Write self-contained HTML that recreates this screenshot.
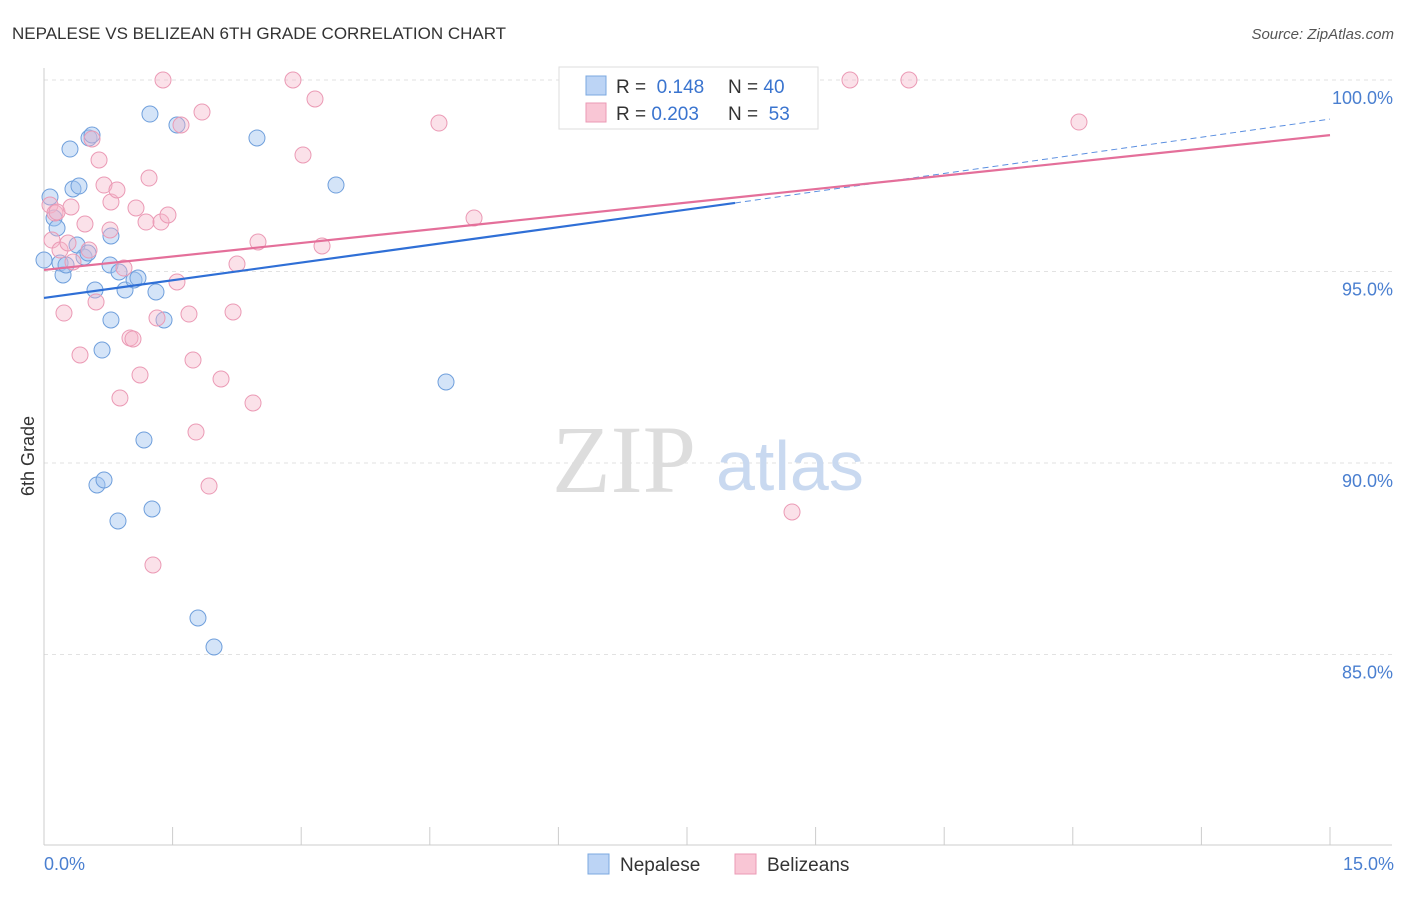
<!DOCTYPE html>
<html><head><meta charset="utf-8"><style>
body{margin:0;background:#fff;font-family:"Liberation Sans",sans-serif;}
</style></head><body>
<svg width="1406" height="892" xmlns="http://www.w3.org/2000/svg" id="chart">
<text x="12" y="39" font-size="17" fill="#333">NEPALESE VS BELIZEAN 6TH GRADE CORRELATION CHART</text>
<text x="1394" y="39" font-size="15" fill="#555" font-style="italic" text-anchor="end">Source: ZipAtlas.com</text>
<g id="grid"></g>
<g id="axes"></g>
<text x="552" y="492" font-size="96" fill="#ddd" font-family="Liberation Serif,serif">ZIP</text>
<text x="716" y="490" font-size="70" fill="#c9d9f0">atlas</text>
<g id="pts"></g>
<g id="trend"></g>
<text transform="translate(34,456) rotate(-90)" font-size="18" fill="#333" text-anchor="middle">6th Grade</text>
<text x="44" y="870" font-size="18" fill="#4a7fd0">0.0%</text>
<text x="1394" y="870" font-size="18" fill="#4a7fd0" text-anchor="end">15.0%</text>
<g>
<rect x="559" y="67" width="259" height="62" fill="#fff" stroke="#ddd"/>
<rect x="586" y="76" width="20" height="19" fill="#bcd4f5" stroke="#7ba8e0"/>
<rect x="586" y="103" width="20" height="19" fill="#f9c6d5" stroke="#eb9ab5"/>
<text x="616" y="93" font-size="19" fill="#333">R = <tspan fill="#3a74cf">&#160;0.148</tspan><tspan x="728">N = </tspan><tspan fill="#3a74cf">40</tspan></text>
<text x="616" y="120" font-size="19" fill="#333">R = <tspan fill="#3a74cf">0.203</tspan><tspan x="728">N = </tspan><tspan fill="#3a74cf">&#160;53</tspan></text>
</g>
<g>
<rect x="588" y="854" width="21" height="20" fill="#bcd4f5" stroke="#7ba8e0"/>
<text x="620" y="871" font-size="19" fill="#333">Nepalese</text>
<rect x="735" y="854" width="21" height="20" fill="#f9c6d5" stroke="#eb9ab5"/>
<text x="767" y="871" font-size="19" fill="#333">Belizeans</text>
</g>
</svg>
<script>
const yTicks=[100,95,90,85];
const yTickLabels=["100.0%","95.0%","90.0%","85.0%"];
const xTicks=[0,1.5,3,4.5,6,7.5,9,10.5,12,13.5,15];
const bluePx=[[44,260],[50,197],[54,218],[57,228],[60,263],[63,275],[66,265],[70,149],[73,189],[79,186],[77,245],[84,257],[88,253],[89,138],[92,135],[95,290],[97,485],[102,350],[104,480],[111,236],[110,265],[111,320],[118,521],[119,272],[125,290],[134,280],[138,278],[144,440],[150,114],[152,509],[156,292],[164,320],[177,125],[198,618],[214,647],[257,138],[336,185],[446,382],[681,105]];
const pinkPx=[[50,205],[52,240],[55,213],[57,212],[60,250],[64,313],[68,243],[71,207],[73,262],[80,355],[85,224],[89,250],[92,139],[96,302],[99,160],[104,185],[110,230],[111,202],[117,190],[120,398],[124,268],[130,338],[133,339],[136,208],[140,375],[146,222],[149,178],[153,565],[157,318],[161,222],[168,215],[177,282],[181,125],[189,314],[193,360],[196,432],[202,112],[209,486],[221,379],[233,312],[237,264],[253,403],[258,242],[293,80],[303,155],[315,99],[322,246],[439,123],[474,218],[792,512],[850,80],[909,80],[1079,122],[163,80]];
// convert estimated pixel reads to data values
const toX=p=>(p-44)/85.733, toY=p=>100-(p-80)/38.3;
const nepaleseX=bluePx.map(p=>+toX(p[0]).toFixed(3)), nepaleseY=bluePx.map(p=>+toY(p[1]).toFixed(3));
const belizeanX=pinkPx.map(p=>+toX(p[0]).toFixed(3)), belizeanY=pinkPx.map(p=>+toY(p[1]).toFixed(3));
const blueTrend=[[0,94.31],[8.06,96.79],[15,98.98]];
const pinkTrend=[[0,95.04],[15,98.56]];
const sx=v=>44+v*85.733, sy=v=>80+(100-v)*38.3;
const NS="http://www.w3.org/2000/svg";
function mk(t,a,parent){const e=document.createElementNS(NS,t);for(const k in a)e.setAttribute(k,a[k]);document.getElementById(parent).appendChild(e);return e;}
yTicks.forEach((v,i)=>{
 const l=mk('line',{x1:44,x2:1392,y1:sy(v),y2:sy(v),stroke:'#e2e2e2','stroke-dasharray':'4,4'},'grid');
 
 
 const t=mk('text',{x:1393,y:sy(v)+24,'font-size':18,fill:'#4a7fd0','text-anchor':'end'},'grid');
 t.textContent=yTickLabels[i];
 
 
});
let a=mk('line',{x1:44,x2:44,y1:68,y2:845,stroke:'#ccc'},'axes');


a=mk('line',{x1:44,x2:1392,y1:845,y2:845,stroke:'#ccc'},'axes');


xTicks.forEach(v=>{const t=mk('line',{x1:sx(v),x2:sx(v),y1:827,y2:845,stroke:'#ccc'},'axes');
 
 });
nepaleseX.forEach((x,i)=>{const c=mk('circle',{cx:sx(x),cy:sy(nepaleseY[i]),r:8,fill:'rgba(160,195,240,0.45)',stroke:'#6f9fdc','stroke-width':1},'pts');
 
 });
belizeanX.forEach((x,i)=>{const c=mk('circle',{cx:sx(x),cy:sy(belizeanY[i]),r:8,fill:'rgba(245,180,200,0.4)',stroke:'#eb9ab5','stroke-width':1},'pts');
 
 });
let l=mk('line',{x1:sx(blueTrend[0][0]),y1:sy(blueTrend[0][1]),x2:sx(blueTrend[1][0]),y2:sy(blueTrend[1][1]),stroke:'#2f6fd6','stroke-width':2.2},'trend');


l=mk('line',{x1:sx(blueTrend[1][0]),y1:sy(blueTrend[1][1]),x2:sx(blueTrend[2][0]),y2:sy(blueTrend[2][1]),stroke:'#5b8fe0','stroke-width':1,'stroke-dasharray':'6,4'},'trend');


l=mk('line',{x1:sx(pinkTrend[0][0]),y1:sy(pinkTrend[0][1]),x2:sx(pinkTrend[1][0]),y2:sy(pinkTrend[1][1]),stroke:'#e46f9a','stroke-width':2.2},'trend');


</script>
</body></html>
